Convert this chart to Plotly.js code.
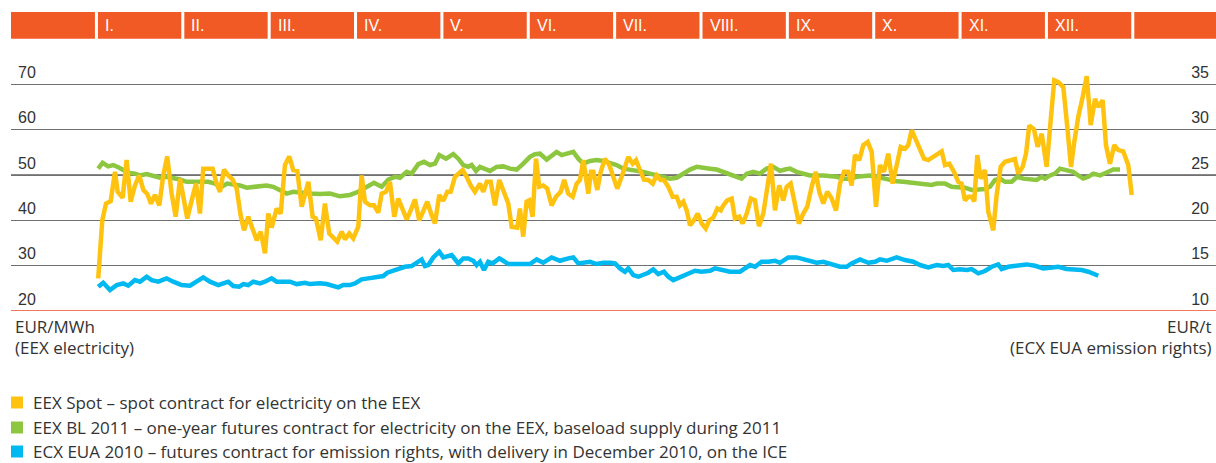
<!DOCTYPE html>
<html>
<head>
<meta charset="utf-8">
<script src="https://cdn.plot.ly/plotly-3.0.1.min.js"></script>
<style>
  html, body { margin: 0; padding: 0; background: #fff; }
  #chart { width: 1216px; height: 463px; }
</style>
</head>
<body>
<div id="chart"></div>
<script>
// ---------- DATA (x = month position, 0 = start of January, 12 = end of December) ----------
const MONTH_LABELS = ['I.', 'II.', 'III.', 'IV.', 'V.', 'VI.', 'VII.', 'VIII.', 'IX.', 'X.', 'XI.', 'XII.'];
const LEFT_TICKS = [20, 30, 40, 50, 60, 70];
const RIGHT_TICKS = [10, 15, 20, 25, 30, 35];

const SERIES_NAMES = [
  'EEX Spot \u2013 spot contract for electricity on the EEX',
  'EEX BL 2011 \u2013 one-year futures contract for electricity on the EEX, baseload supply during 2011',
  'ECX EUA 2010 \u2013 futures contract for emission rights, with delivery in December 2010, on the ICE'
];
const LEFT_UNIT = ['EUR/MWh', '(EEX electricity)'];
const RIGHT_UNIT = ['EUR/t', '(ECX EUA emission rights)'];

// EEX Spot (EUR/MWh)
const spotX = [0.003,0.050,0.093,0.147,0.197,0.228,0.286,0.332,0.379,0.428,0.478,0.525,0.571,0.614,0.660,0.710,0.756,0.802,0.853,0.900,0.950,0.996,1.034,1.085,1.135,1.181,1.219,1.277,1.328,1.374,1.413,1.459,1.509,1.560,1.606,1.652,1.691,1.740,1.791,1.838,1.884,1.934,1.972,2.011,2.069,2.116,2.165,2.215,2.261,2.308,2.359,2.436,
 2.486,2.524,2.579,2.628,2.678,2.725,2.771,2.822,2.860,2.910,2.956,3.014,3.053,3.092,3.150,3.196,3.246,3.285,3.335,3.381,3.431,3.477,3.535,3.575,3.621,3.671,3.720,3.767,3.813,3.864,3.902,3.952,3.998,4.045,4.084,4.134,4.184,4.223,4.269,4.316,4.365,4.423,4.462,4.501,4.547,4.597,4.647,4.701,4.751,4.790,4.855,
 4.886,4.924,4.963,4.994,5.033,5.072,5.110,5.156,5.202,5.253,5.303,5.358,5.399,5.446,5.497,5.543,5.581,5.620,5.678,5.709,5.736,5.782,5.821,5.871,5.921,5.967,6.013,6.064,6.102,6.141,6.191,6.230,6.276,6.322,6.372,6.423,6.469,6.515,6.554,6.604,6.655,6.701,6.739,6.778,6.817,6.855,6.901,6.944,6.991,7.037,7.079,7.125,7.171,7.211,
 7.241,7.287,7.338,7.376,7.426,7.465,7.512,7.561,7.608,7.654,7.704,7.750,7.793,7.839,7.889,7.935,7.975,8.021,8.071,8.117,8.167,8.213,8.264,8.311,8.352,8.399,8.445,8.496,8.546,8.592,8.638,8.688,8.727,8.766,8.815,8.862,8.913,8.959,9.009,9.055,9.101,9.151,9.202,9.248,9.295,9.345,9.383,9.422,9.469,9.518,9.565,9.614,9.692,
 9.770,9.808,9.858,9.912,9.962,10.001,10.039,10.078,10.117,10.147,10.182,10.221,10.271,10.309,10.367,10.406,10.453,10.503,10.561,10.618,10.657,10.707,10.746,10.784,10.838,10.881,10.928,10.985,11.032,11.073,11.120,11.178,11.224,11.267,11.305,11.351,11.402,11.449,11.495,11.545,11.583,11.634,11.672,11.718,11.768,11.815,11.872,11.930,11.970];
const spotY = [27.2,40.0,43.7,44.2,50.7,46.3,45.0,53.3,44.1,47.7,49.9,46.7,45.8,43.7,45.6,43.3,49.9,54.1,45.9,40.8,49.2,44.4,40.4,44.4,48.1,41.5,51.4,51.4,51.4,48.1,46.3,51.2,49.9,49.0,47.0,41.1,37.8,40.8,37.8,35.6,37.5,32.7,41.5,38.4,42.6,41.5,52.2,54.1,51.1,50.9,43.0,48.5,
 40.8,40.4,35.6,43.7,37.1,36.0,35.3,37.5,35.8,37.1,36.0,38.6,49.9,44.1,43.3,43.3,41.7,45.9,46.3,48.5,40.8,44.8,42.2,40.2,42.2,44.6,40.0,41.9,44.1,41.1,39.3,45.6,44.3,46.3,46.3,49.6,50.3,51.1,49.6,47.7,46.3,48.1,46.3,48.5,48.5,43.3,48.9,46.3,43.7,38.6,38.4,
 42.6,36.4,44.1,44.4,40.8,53.6,47.4,47.7,47.0,43.3,45.2,46.3,48.9,45.9,45.2,48.1,48.9,53.3,45.9,50.7,50.7,46.7,50.7,53.6,52.2,49.9,47.0,49.6,51.8,54.0,52.5,53.3,51.1,49.0,48.9,48.1,49.9,48.9,48.9,47.4,45.2,45.2,43.3,44.1,42.2,38.9,40.0,41.5,39.3,38.2,40.0,40.6,42.6,42.2,
 43.3,44.4,44.8,40.4,40.8,39.3,41.5,44.8,44.4,38.7,41.5,47.4,52.5,42.2,47.7,44.4,47.4,48.1,43.0,39.3,41.5,43.0,47.4,50.7,46.3,43.7,46.3,44.8,42.2,48.1,50.7,50.7,47.7,54.4,53.3,56.6,57.3,55.1,43.0,52.2,50.7,54.7,48.1,52.5,56.2,55.8,56.6,59.9,58.0,55.5,53.6,53.3,54.2,
 55.2,52.2,52.5,50.7,48.5,48.1,44.4,45.2,45.2,44.2,54.4,49.2,51.1,41.9,37.8,45.6,51.8,52.9,53.3,53.5,50.3,51.8,54.7,60.9,60.1,56.2,59.1,51.8,62.1,70.9,70.5,69.4,60.6,51.8,57.3,62.8,67.2,71.8,61.0,66.8,65.0,66.5,56.6,52.5,56.6,55.5,55.2,52.2,45.6];

// EEX BL 2011 (EUR/MWh)
const blX = [0.003,0.054,0.119,0.177,0.235,0.293,0.351,0.428,0.486,0.564,0.640,0.718,0.795,0.872,0.950,1.027,1.104,1.201,1.277,1.355,1.432,1.497,1.567,1.644,1.722,1.798,1.876,1.953,2.030,2.107,2.185,2.261,2.339,2.455,2.571,2.686,2.802,2.918,3.014,3.111,3.196,3.285,3.362,3.439,3.497,3.575,3.632,3.709,3.775,3.844,3.902,3.952,4.030,4.114,4.172,4.230,4.288,4.327,4.377,4.423,4.481,4.539,4.617,4.693,4.771,4.848,4.925,5.002,5.060,5.118,5.196,5.254,5.311,5.369,5.427,5.504,5.562,5.620,5.697,5.775,5.851,5.929,6.006,6.083,6.160,6.238,6.314,6.392,6.469,6.546,6.623,6.701,6.778,6.855,6.933,7.009,7.087,7.164,7.241,7.356,7.453,7.512,7.588,7.665,7.743,7.820,7.897,7.955,8.013,8.090,8.167,8.244,8.399,8.553,8.630,8.708,8.785,8.862,8.939,9.017,9.093,9.171,9.248,9.325,9.402,9.480,9.557,9.654,9.712,9.808,9.885,9.962,10.039,10.117,10.193,10.271,10.329,10.387,10.445,10.503,10.580,10.645,10.714,10.792,10.869,10.928,10.966,11.024,11.082,11.139,11.217,11.293,11.351,11.409,11.467,11.525,11.602,11.680,11.757,11.834];
const blY = [51.4,52.7,51.9,52.2,51.7,51.1,50.5,50.3,49.9,50.2,49.7,49.4,49.6,49.4,49.0,48.5,48.5,48.3,48.5,48.1,47.4,48.1,47.9,47.7,47.2,47.4,47.4,47.7,47.4,46.7,45.9,46.3,46.1,45.9,45.8,45.9,45.3,45.6,46.3,47.4,48.3,47.4,49.0,49.6,49.4,50.7,50.3,52.4,52.9,52.2,52.5,54.4,53.6,54.6,53.6,52.2,51.8,52.2,50.9,51.8,51.4,50.9,51.8,51.9,51.4,51.2,52.5,54.0,54.6,54.7,53.4,54.4,55.1,54.4,54.6,55.1,53.6,52.5,53.1,53.3,53.1,52.7,52.2,51.4,51.2,50.9,50.7,50.3,49.9,49.6,49.2,49.4,50.3,51.2,51.8,51.7,51.4,51.2,50.7,49.9,49.2,50.3,50.7,50.3,51.4,51.8,50.9,51.2,51.4,50.7,50.3,49.9,49.9,49.6,49.2,49.2,49.6,49.8,49.9,49.6,49.2,48.9,48.6,48.5,48.3,48.1,48.0,47.8,48.1,48.1,47.4,47.4,47.2,46.7,46.7,46.9,47.4,48.9,49.2,48.5,48.5,49.6,49.2,49.1,48.9,49.6,49.2,49.9,50.3,51.4,51.1,50.7,49.9,49.2,49.6,50.3,49.9,50.5,51.2,51.2];

// ECX EUA 2010 (EUR/t, right axis)
const euaX = [0.003,0.061,0.139,0.217,0.293,0.351,0.428,0.486,0.564,0.622,0.698,0.795,0.872,0.969,1.065,1.143,1.219,1.297,1.393,1.451,1.509,1.567,1.636,1.683,1.740,1.798,1.876,1.934,2.011,2.069,2.146,2.223,2.301,2.397,2.455,2.571,2.648,2.725,2.783,2.840,2.918,2.976,3.053,3.130,3.227,3.304,3.350,3.419,3.497,3.555,3.632,3.709,3.748,3.786,3.825,3.883,3.952,3.998,4.096,4.172,4.230,4.288,4.346,4.385,4.423,4.470,4.519,4.570,4.647,4.693,4.751,4.829,4.886,5.002,5.080,5.156,5.254,5.350,5.446,5.504,5.562,5.620,5.697,5.775,5.851,5.929,5.987,6.045,6.102,6.141,6.199,6.257,6.314,6.372,6.430,6.488,6.554,6.604,6.662,6.739,6.817,6.913,6.991,7.087,7.144,7.241,7.318,7.434,7.492,7.550,7.608,7.685,7.762,7.839,7.897,7.993,8.090,8.167,8.244,8.322,8.399,8.457,8.534,8.592,8.669,8.727,8.824,8.920,8.997,9.055,9.133,9.248,9.345,9.441,9.518,9.614,9.712,9.788,9.846,9.904,9.981,10.059,10.117,10.193,10.271,10.349,10.425,10.464,10.541,10.638,10.754,10.850,10.946,11.024,11.120,11.217,11.293,11.391,11.467,11.525,11.583];
const euaY = [12.68,13.12,12.31,12.86,13.05,12.79,13.41,13.23,13.78,13.41,13.23,13.60,13.23,12.86,12.79,13.23,13.71,13.23,12.86,13.05,13.23,12.75,12.68,12.97,12.86,13.23,13.05,13.23,13.60,13.23,13.23,13.23,12.97,13.12,12.97,13.05,12.97,12.75,12.61,12.86,12.86,13.05,13.49,13.60,13.78,13.85,14.22,14.44,14.81,14.88,14.96,15.43,15.69,14.96,15.07,15.91,16.53,15.91,16.17,15.25,15.80,15.80,15.54,15.07,15.43,14.52,15.43,15.25,15.80,15.54,15.18,15.18,15.18,15.18,15.69,15.32,15.91,15.54,15.80,15.91,15.25,15.32,15.43,15.18,15.32,15.32,15.25,14.70,14.33,14.70,13.96,13.78,13.96,14.22,14.59,14.07,14.33,13.78,13.41,13.71,13.96,14.44,14.33,14.44,14.70,14.52,14.33,14.33,14.70,15.07,14.88,15.43,15.43,15.54,15.32,15.91,15.91,15.69,15.43,15.32,15.43,15.25,15.07,14.88,14.88,15.25,15.69,15.32,15.43,15.69,15.54,15.91,15.62,15.43,15.07,14.81,15.07,14.96,15.07,14.52,14.59,14.52,14.63,14.15,14.41,14.88,15.14,14.63,14.88,14.96,15.14,14.99,14.70,14.77,14.88,14.63,14.63,14.52,14.33,14.07,13.89];

// ---------- STYLE ----------
const COLORS = { spot: '#ffc20e', bl: '#8dc63f', eua: '#00b9f1', band: '#f15a24', red: '#ef4a25' };
const FONT = 'Liberation Sans, Arial, sans-serif';
const FONT_TEXT = 'Open Sans, Liberation Sans, sans-serif';
const TEXT = '#333333';

const W = 1216, H = 463;
const M = { l: 11, r: 0, t: 39, b: 152 };
const plotW = W - M.l - M.r, plotH = H - M.t - M.b;
const X_RANGE = [-1.007, 12.946];
const px2px = (px) => (px - M.l) / plotW;              // pixel -> paper x
const py2py = (py) => (H - M.b - py) / plotH;          // pixel -> paper y
const m2px = (m) => (m - X_RANGE[0]) / (X_RANGE[1] - X_RANGE[0]); // month -> paper x

const traces = [
  { x: spotX, y: spotY, name: SERIES_NAMES[0], mode: 'lines', line: { color: COLORS.spot, width: 4.5 }, hoverinfo: 'skip' },
  { x: blX, y: blY, name: SERIES_NAMES[1], mode: 'lines', line: { color: COLORS.bl, width: 4.5 }, hoverinfo: 'skip' },
  { x: euaX, y: euaY, name: SERIES_NAMES[2], mode: 'lines', yaxis: 'y2', line: { color: COLORS.eua, width: 4.5 }, hoverinfo: 'skip' }
];
const ordered = [traces[2], traces[1], traces[0]];

const shapes = [];
const annotations = [];

// Month band
const GAP = 0.035;
const bandY0 = py2py(38.7), bandY1 = py2py(12);
const bandEdges = [X_RANGE[0]].concat(MONTH_LABELS.map((_, i) => i), [12]);
for (let i = 0; i < bandEdges.length; i++) {
  const a = bandEdges[i];
  const b = (i + 1 < bandEdges.length) ? bandEdges[i + 1] - GAP : X_RANGE[1];
  shapes.push({ type: 'rect', xref: 'paper', yref: 'paper', x0: m2px(a), x1: m2px(b), y0: bandY0, y1: bandY1,
    fillcolor: COLORS.band, line: { width: 0 }, layer: 'below' });
}
MONTH_LABELS.forEach((lab, i) => {
  annotations.push({ xref: 'x', yref: 'paper', x: i, y: py2py(26), xanchor: 'left', yanchor: 'middle', xshift: 5,
    text: lab, showarrow: false, font: { family: FONT, size: 16, color: '#ffffff' } });
});

// black line at 50 and red baseline at 20
shapes.push({ type: 'line', xref: 'paper', yref: 'y', x0: 0, x1: 1, y0: 50, y1: 50, line: { color: '#111111', width: 1 }, layer: 'below' });
shapes.push({ type: 'line', xref: 'paper', yref: 'y', x0: 0, x1: 1, y0: 20, y1: 20, line: { color: COLORS.red, width: 1.5 }, layer: 'above' });

// unit labels
const unitFont = { family: FONT_TEXT, size: 17, color: TEXT };
annotations.push({ xref: 'paper', yref: 'paper', x: px2px(13), y: py2py(326), xanchor: 'left', yanchor: 'middle', text: LEFT_UNIT[0], showarrow: false, font: unitFont });
annotations.push({ xref: 'paper', yref: 'paper', x: px2px(13), y: py2py(347), xanchor: 'left', yanchor: 'middle', text: LEFT_UNIT[1], showarrow: false, font: unitFont });
annotations.push({ xref: 'paper', yref: 'paper', x: px2px(1214), y: py2py(326), xanchor: 'right', yanchor: 'middle', text: RIGHT_UNIT[0], showarrow: false, font: unitFont });
annotations.push({ xref: 'paper', yref: 'paper', x: px2px(1214), y: py2py(347), xanchor: 'right', yanchor: 'middle', text: RIGHT_UNIT[1], showarrow: false, font: unitFont });

// legend (squares + texts)
const legendColors = [COLORS.spot, COLORS.bl, COLORS.eua];
const legendRows = [402.5, 427.5, 451.5];
SERIES_NAMES.forEach((name, i) => {
  const cy = legendRows[i];
  shapes.push({ type: 'rect', xref: 'paper', yref: 'paper', x0: px2px(11), x1: px2px(23), y0: py2py(cy + 6), y1: py2py(cy - 6),
    fillcolor: legendColors[i], line: { width: 0 } });
  annotations.push({ xref: 'paper', yref: 'paper', x: px2px(31), y: py2py(cy), xanchor: 'left', yanchor: 'middle',
    text: name, showarrow: false, font: unitFont });
});

const layout = {
  width: W, height: H,
  margin: M,
  paper_bgcolor: '#ffffff', plot_bgcolor: '#ffffff',
  showlegend: false,
  xaxis: { range: X_RANGE, showgrid: false, zeroline: false, showticklabels: false, ticks: '', showline: false, fixedrange: true },
  yaxis: { range: [20, 80], tickvals: LEFT_TICKS, ticktext: LEFT_TICKS.map(String), showgrid: true, gridcolor: '#707070', gridwidth: 1,
    zeroline: false, showline: false, ticks: '', ticklabelposition: 'inside', ticklabelshift: -12, ticklabelstandoff: 4,
    tickfont: { family: FONT, size: 16, color: TEXT }, fixedrange: true },
  yaxis2: { range: [10, 40], overlaying: 'y', side: 'right', tickvals: RIGHT_TICKS, ticktext: RIGHT_TICKS.map(String), showgrid: false,
    zeroline: false, showline: false, ticks: '', ticklabelposition: 'inside', ticklabelshift: -12, ticklabelstandoff: 4,
    tickfont: { family: FONT, size: 16, color: TEXT }, fixedrange: true },
  shapes: shapes,
  annotations: annotations
};

Plotly.newPlot('chart', ordered, layout, { displayModeBar: false, staticPlot: true });
</script>
</body>
</html>
